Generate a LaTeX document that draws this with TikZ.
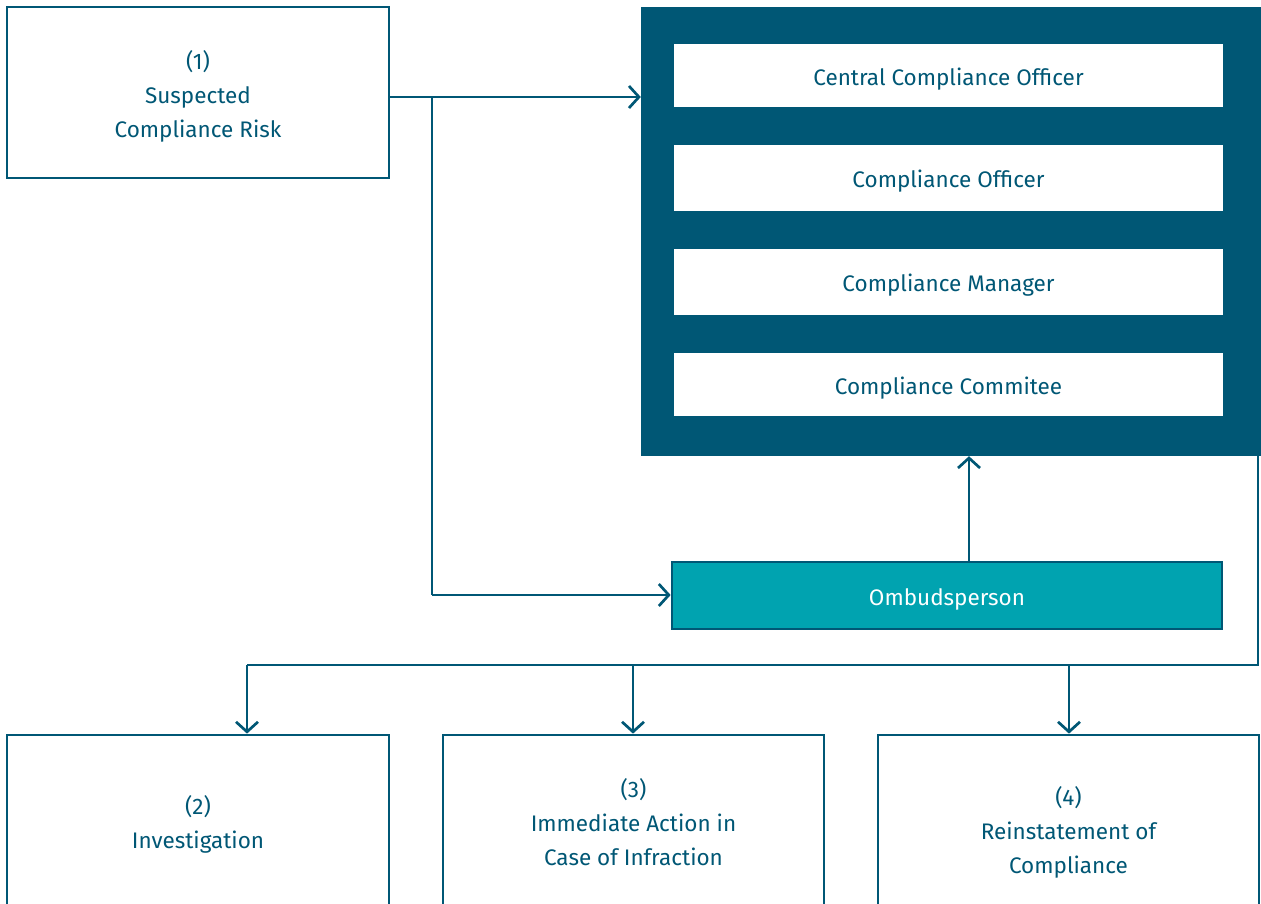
\documentclass[tikz,border=0pt]{standalone}
\usepackage{fontspec}
\setmainfont{Fira Sans}
\usetikzlibrary{arrows.meta}
\definecolor{dteal}{RGB}{0,87,117}
\definecolor{lteal}{RGB}{0,163,176}
\begin{document}
\begin{tikzpicture}[x=1pt,y=-1pt,
  box/.style={draw=dteal,line width=2.7pt,fill=white,inner sep=0pt},
  role/.style={fill=white,draw=none,inner sep=0pt,minimum width=549pt,font=\fontsize{22.5}{26}\selectfont,text=dteal},
  rtext/.style={text=dteal,font=\fontsize{22.5}{26}\selectfont,inner sep=0pt},
  lbl/.style={align=center,text=dteal,font=\fontsize{22.5}{34}\selectfont},
  conn/.style={draw=dteal,line width=2.7pt,-{Straight Barb[length=10pt,width=22pt,line width=2.7pt]}},
  plain/.style={draw=dteal,line width=2.7pt}]
\useasboundingbox (0,0) rectangle (1261,904);
\clip (0,0) rectangle (1261,904);
% box 1
\node[box,minimum width=382pt,minimum height=171pt] (b1) at (198,92.5) {};
\node[lbl] (t1) at (198,96) {(1)\\Suspected\\Compliance Risk};
% big panel
\node[fill=dteal,draw=none,inner sep=0pt,minimum width=620pt,minimum height=449pt] (panel) at (951,231.5) {};
\node[role,minimum height=63pt] (r1) at (948.5,75.5) {};
\node[role,minimum height=66pt] (r2) at (948.5,178) {};
\node[role,minimum height=66pt] (r3) at (948.5,282) {};
\node[role,minimum height=63pt] (r4) at (948.5,384.5) {};
\node[rtext] at (948.5,79) {Central Compliance Officer};
\node[rtext] at (948.5,181) {Compliance Officer};
\node[rtext] at (948.5,285) {Compliance Manager};
\node[rtext] at (948.5,388) {Compliance Commitee};
% ombudsperson
\node[draw=dteal,line width=2.7pt,fill=lteal,inner sep=0pt,minimum width=550pt,minimum height=67pt] (omb) at (947,595.5) {};
\node[rtext,text=white] at (947,599) {Ombudsperson};
% bottom boxes
\node[box,minimum width=382pt,minimum height=200pt] (b2) at (198,835) {};
\node[box,minimum width=381pt,minimum height=200pt] (b3) at (633.5,835) {};
\node[box,minimum width=381pt,minimum height=200pt] (b4) at (1068.5,835) {};
\node[lbl] (t2) at (198,824) {(2)\\Investigation};
\node[lbl] (t3) at (633.5,822.5) {(3)\\Immediate Action in\\Case of Infraction};
\node[lbl] (t4) at (1068.5,832) {(4)\\Reinstatement of\\Compliance};
% coordinates
\coordinate (s) at (432,97);
\coordinate (sd) at (432,595);
\coordinate (pr) at (1258,456);
\coordinate (prb) at (1258,665);
\coordinate (h2) at (247,665);
\coordinate (h3) at (633,665);
\coordinate (h4) at (1069,665);
% connectors
\draw[conn] (b1.east |- s) -- (panel.west |- s);
\draw[plain] (s) -- (sd);
\draw[conn] (sd) -- (omb.west |- sd);
\draw[conn] (omb.north -| 969,0) -- (panel.south -| 969,0);
\draw[plain] (pr) -- (prb) -- (h2);
\draw[conn] (h2) -- (b2.north -| h2);
\draw[conn] (h3) -- (b3.north -| h3);
\draw[conn] (h4) -- (b4.north -| h4);
\end{tikzpicture}
\end{document}
